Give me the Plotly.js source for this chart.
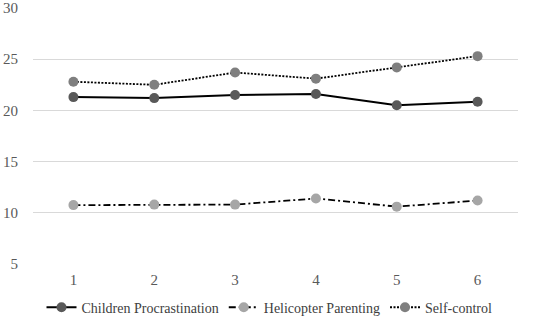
<!DOCTYPE html>
<html>
<head>
<meta charset="utf-8">
<script src="https://cdn.plot.ly/plotly-3.0.1.min.js"></script>
<style>html,body{margin:0;padding:0;background:#fff}#chart{width:550px;height:323px}</style>
</head>
<body>
<div id="chart"></div>
<script>
var categories = [1, 2, 3, 4, 5, 6];
var childrenProcrastination = [21.3, 21.2, 21.5, 21.6, 20.5, 20.85];
var helicopterParenting = [10.75, 10.8, 10.8, 11.4, 10.6, 11.2];
var selfControl = [22.8, 22.5, 23.7, 23.1, 24.2, 25.3];
var seriesNames = ["Children Procrastination", "Helicopter Parenting", "Self-control"];
var yTicks = [5, 10, 15, 20, 25, 30];
var serif = 'Liberation Serif, Times New Roman, serif';

var traces = [
  {x: categories, y: childrenProcrastination, name: seriesNames[0], type: 'scatter', mode: 'lines+markers',
   line: {color: '#000000', width: 2, dash: 'solid'}, marker: {color: '#595959', size: 10}},
  {x: categories, y: helicopterParenting, name: seriesNames[1], type: 'scatter', mode: 'lines+markers',
   line: {color: '#000000', width: 1.8, dash: '7px,3px,2px,3px'}, marker: {color: '#a6a6a6', size: 10}},
  {x: categories, y: selfControl, name: seriesNames[2], type: 'scatter', mode: 'lines+markers',
   line: {color: '#000000', width: 1.8, dash: '2px,1.5px'}, marker: {color: '#7f7f7f', size: 10}}
];

var layout = {
  width: 550, height: 323,
  margin: {l: 33, r: 32, t: 8, b: 59, autoexpand: false},
  paper_bgcolor: '#ffffff', plot_bgcolor: '#ffffff',
  font: {family: serif, size: 15, color: '#595959'},
  showlegend: true,
  legend: {orientation: 'h', xref: 'container', x: 0.49, xanchor: 'center', y: -0.108, yanchor: 'top',
           font: {family: serif, size: 14, color: '#404040'},
           itemwidth: 30, traceorder: 'normal'},
  xaxis: {range: [0.5, 6.5], tickvals: categories, ticktext: categories.map(String),
          showgrid: false, zeroline: false, showline: false, ticks: '', ticklabelstandoff: 5,
          tickfont: {family: serif, size: 15, color: '#595959'}, fixedrange: true},
  yaxis: {range: [5, 30], tickvals: yTicks, showgrid: true, gridcolor: '#d9d9d9', gridwidth: 1,
          zeroline: false, showline: false, ticks: '', ticklabelstandoff: 14,
          tickfont: {family: serif, size: 15, color: '#595959'}, fixedrange: true}
};

Plotly.newPlot('chart', traces, layout, {displayModeBar: false, staticPlot: true});
</script>
</body>
</html>
